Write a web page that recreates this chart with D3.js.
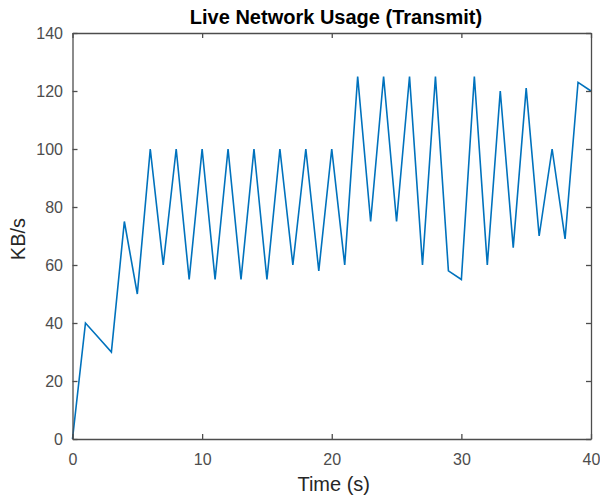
<!DOCTYPE html>
<html><head><meta charset="utf-8">
<script src="https://cdn.jsdelivr.net/npm/d3@7"></script>
<style>body{margin:0;background:#fff}svg{display:block}</style>
</head><body>
<svg id="c" width="600" height="495"></svg>
<script>
const title = "Live Network Usage (Transmit)";
const xLabel = "Time (s)";
const yLabel = "KB/s";
const time = [0,1,2,3,4,5,6,7,8,9,10,11,12,13,14,15,16,17,18,19,20,21,22,23,24,25,26,27,28,29,30,31,32,33,34,35,36,37,38,39,40];
const kbps = [0,40,35,30,75,50,100,60,100,55,100,55,100,55,100,55,100,60,100,58,100,60,125,75,125,75,125,60,125,58,55,125,60,120,66,121,70,100,69,123,120];
const xTicks = [0,10,20,30,40];
const yTicks = [0,20,40,60,80,100,120,140];

const svg = d3.select("#c");
const L = 72.5, R = 591, T = 33, B = 439;
const x = d3.scaleLinear().domain([0,40]).range([L,R]);
const y = d3.scaleLinear().domain([0,140]).range([B,T]);
const axisColor = "#4d4d4d";
const font = "Liberation Sans, Arial, Helvetica, sans-serif";

svg.append("rect").attr("x",L).attr("y",T).attr("width",R-L).attr("height",B-T).attr("fill","#fff");

const line = d3.line().x((d,i)=>x(time[i])).y(d=>y(d));
svg.append("path").datum(kbps).attr("d",line).attr("fill","none")
  .attr("stroke","#0072BD").attr("stroke-width",1.6).attr("stroke-linejoin","miter");

function styleAxis(g){
  g.selectAll("path.domain").attr("stroke",axisColor).attr("stroke-width",1.3);
  g.selectAll(".tick line").attr("stroke",axisColor).attr("stroke-width",1.3);
  g.selectAll(".tick text").attr("fill",axisColor).attr("font-size",16).attr("font-family",font);
}
const gx = svg.append("g").attr("transform",`translate(0,${B})`)
  .call(d3.axisBottom(x).tickValues(xTicks).tickSizeInner(-5).tickSizeOuter(0).tickPadding(14.5));
styleAxis(gx);
const gxt = svg.append("g").attr("transform",`translate(0,${T})`)
  .call(d3.axisTop(x).tickValues(xTicks).tickSizeInner(-5).tickSizeOuter(0).tickFormat(""));
styleAxis(gxt);
const gy = svg.append("g").attr("transform",`translate(${L},0)`)
  .call(d3.axisLeft(y).tickValues(yTicks).tickSizeInner(-5).tickSizeOuter(0).tickPadding(9.5));
styleAxis(gy);
const gyr = svg.append("g").attr("transform",`translate(${R},0)`)
  .call(d3.axisRight(y).tickValues(yTicks).tickSizeInner(-5).tickSizeOuter(0).tickFormat(""));
styleAxis(gyr);

svg.append("text").attr("x",336).attr("y",24).attr("text-anchor","middle")
  .attr("font-family",font).attr("font-size",20).attr("font-weight","bold").attr("fill","#000").text(title);
svg.append("text").attr("x",(L+R)/2 + 2).attr("y",491).attr("text-anchor","middle")
  .attr("font-family",font).attr("font-size",20).attr("fill","#262626").text(xLabel);
svg.append("text").attr("transform",`translate(25,${(T+B)/2 + 3}) rotate(-90)`).attr("text-anchor","middle")
  .attr("font-family",font).attr("font-size",20).attr("fill","#262626").text(yLabel);
</script>
</body></html>
